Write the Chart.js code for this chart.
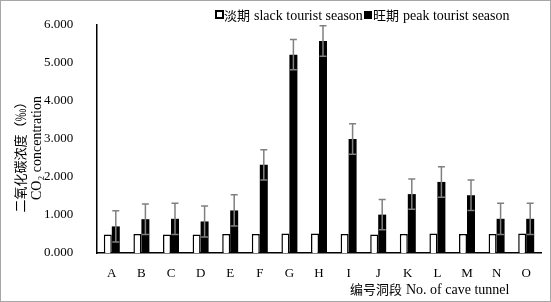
<!DOCTYPE html>
<html>
<head>
<meta charset="utf-8">
<script src="https://cdn.jsdelivr.net/npm/chart.js@4/dist/chart.umd.min.js"></script>
<style>
html,body{margin:0;padding:0;background:#fff;}
#wrap{position:relative;width:551px;height:302px;box-sizing:border-box;border:1px solid #a6a6a6;}
canvas{display:block;}
</style>
</head>
<body>
<div id="wrap"><canvas id="c" width="549" height="300"></canvas></div>
<script>
const categories = ['A','B','C','D','E','F','G','H','I','J','K','L','M','N','O'];
const slackValues = [0.49,0.50,0.49,0.49,0.50,0.50,0.51,0.51,0.50,0.49,0.50,0.51,0.50,0.50,0.51];
const peakValues  = [0.70,0.89,0.90,0.83,1.12,2.32,5.22,5.58,3.00,1.01,1.55,1.87,1.52,0.90,0.90];
const peakErrors  = [0.41,0.40,0.41,0.41,0.41,0.40,0.40,0.40,0.40,0.40,0.40,0.40,0.40,0.41,0.41];
const yTicks = [0,1,2,3,4,5,6];
const legendCn = ['淡期','旺期'];
const legendEn = ['slack tourist season','peak tourist season'];
const yTitle = ['二氧化碳浓度（‰）','CO₂ concentration'];
const xTitleCn = '编号洞段';
const xTitleEn = 'No. of cave tunnel';

const SERIF = '"Liberation Serif","Times New Roman",serif';
const CJK = '"Noto Sans CJK SC",serif';

const errorPlugin = {
  id:'errbars',
  afterDatasetsDraw(chart){
    const ctx = chart.ctx;
    const meta = chart.getDatasetMeta(1);
    const y = chart.scales.y;
    ctx.save();
    ctx.strokeStyle = '#808080';
    ctx.lineWidth = 1.5;
    meta.data.forEach((bar,i)=>{
      const v = peakValues[i], e = peakErrors[i];
      const x = bar.x;
      const yt = y.getPixelForValue(v+e), yb = y.getPixelForValue(v-e);
      const hw = 3.5;
      ctx.beginPath();
      ctx.moveTo(x,yt); ctx.lineTo(x,yb);
      ctx.moveTo(x-hw,yt); ctx.lineTo(x+hw,yt);
      ctx.moveTo(x-hw,yb); ctx.lineTo(x+hw,yb);
      ctx.stroke();
    });
    ctx.restore();
  }
};

function mixed(ctx, x, y, cn, en, gap){
  ctx.font = '13px ' + CJK;
  ctx.fillText(cn, x, y);
  const w = ctx.measureText(cn).width;
  ctx.font = '14px ' + SERIF;
  ctx.fillText(en, x + w + gap, y + 1);
  return x + w + gap + ctx.measureText(en).width;
}

const textPlugin = {
  id:'texts',
  afterDraw(chart){
    const ctx = chart.ctx;
    ctx.save();
    ctx.textBaseline = 'middle';
    ctx.textAlign = 'left';
    const ly = 14;
    ctx.strokeStyle = '#000'; ctx.lineWidth = 2;
    ctx.fillStyle = '#fff';
    ctx.fillRect(215,10,7,7); ctx.strokeRect(215,10,7,7);
    ctx.fillStyle = '#000';
    mixed(ctx, 223, ly, legendCn[0], legendEn[0], 4);
    ctx.fillRect(363,10,8,8);
    mixed(ctx, 372, ly, legendCn[1], legendEn[1], 4);
    mixed(ctx, 349, 288, xTitleCn, xTitleEn, 4);
    ctx.translate(19, 153);
    ctx.rotate(-Math.PI/2);
    ctx.textAlign = 'center';
    ctx.font = '13px ' + CJK;
    ctx.fillText(yTitle[0], 0, 0);
    ctx.font = '14px ' + SERIF;
    ctx.fillText(yTitle[1], 6, 17);
    ctx.restore();
  }
};

new Chart(document.getElementById('c'), {
  type:'bar',
  data:{
    labels: categories,
    datasets:[
      {label:legendEn[0], data:slackValues, backgroundColor:'#fff', borderColor:'#000', borderWidth:1.5, categoryPercentage:0.54, barPercentage:1.0},
      {label:legendEn[1], data:peakValues, backgroundColor:'#000', borderColor:'#000', borderWidth:0, categoryPercentage:0.54, barPercentage:1.0}
    ]
  },
  options:{
    responsive:false,
    animation:false,
    devicePixelRatio:1,
    layout:{padding:{left:43,right:9,top:24,bottom:0}},
    plugins:{legend:{display:false}, tooltip:{enabled:false}},
    scales:{
      x:{
        grid:{display:false, drawTicks:false},
        border:{display:true, color:'#000', width:1.5},
        ticks:{font:{family:SERIF, size:13}, color:'#000', padding:13},
        afterFit(s){ s.height = 48; }
      },
      y:{
        min:0, max:6,
        grid:{display:false, drawTicks:false},
        border:{display:true, color:'#000', width:1.5},
        afterBuildTicks(s){ s.ticks = yTicks.map(v=>({value:v})); },
        ticks:{font:{family:SERIF, size:13}, color:'#000', padding:0, crossAlign:'far',
               callback:v=>Number(v).toFixed(3)},
        afterFit(s){ s.width = 53; }
      }
    }
  },
  plugins:[errorPlugin, textPlugin]
});
</script>
</body>
</html>
